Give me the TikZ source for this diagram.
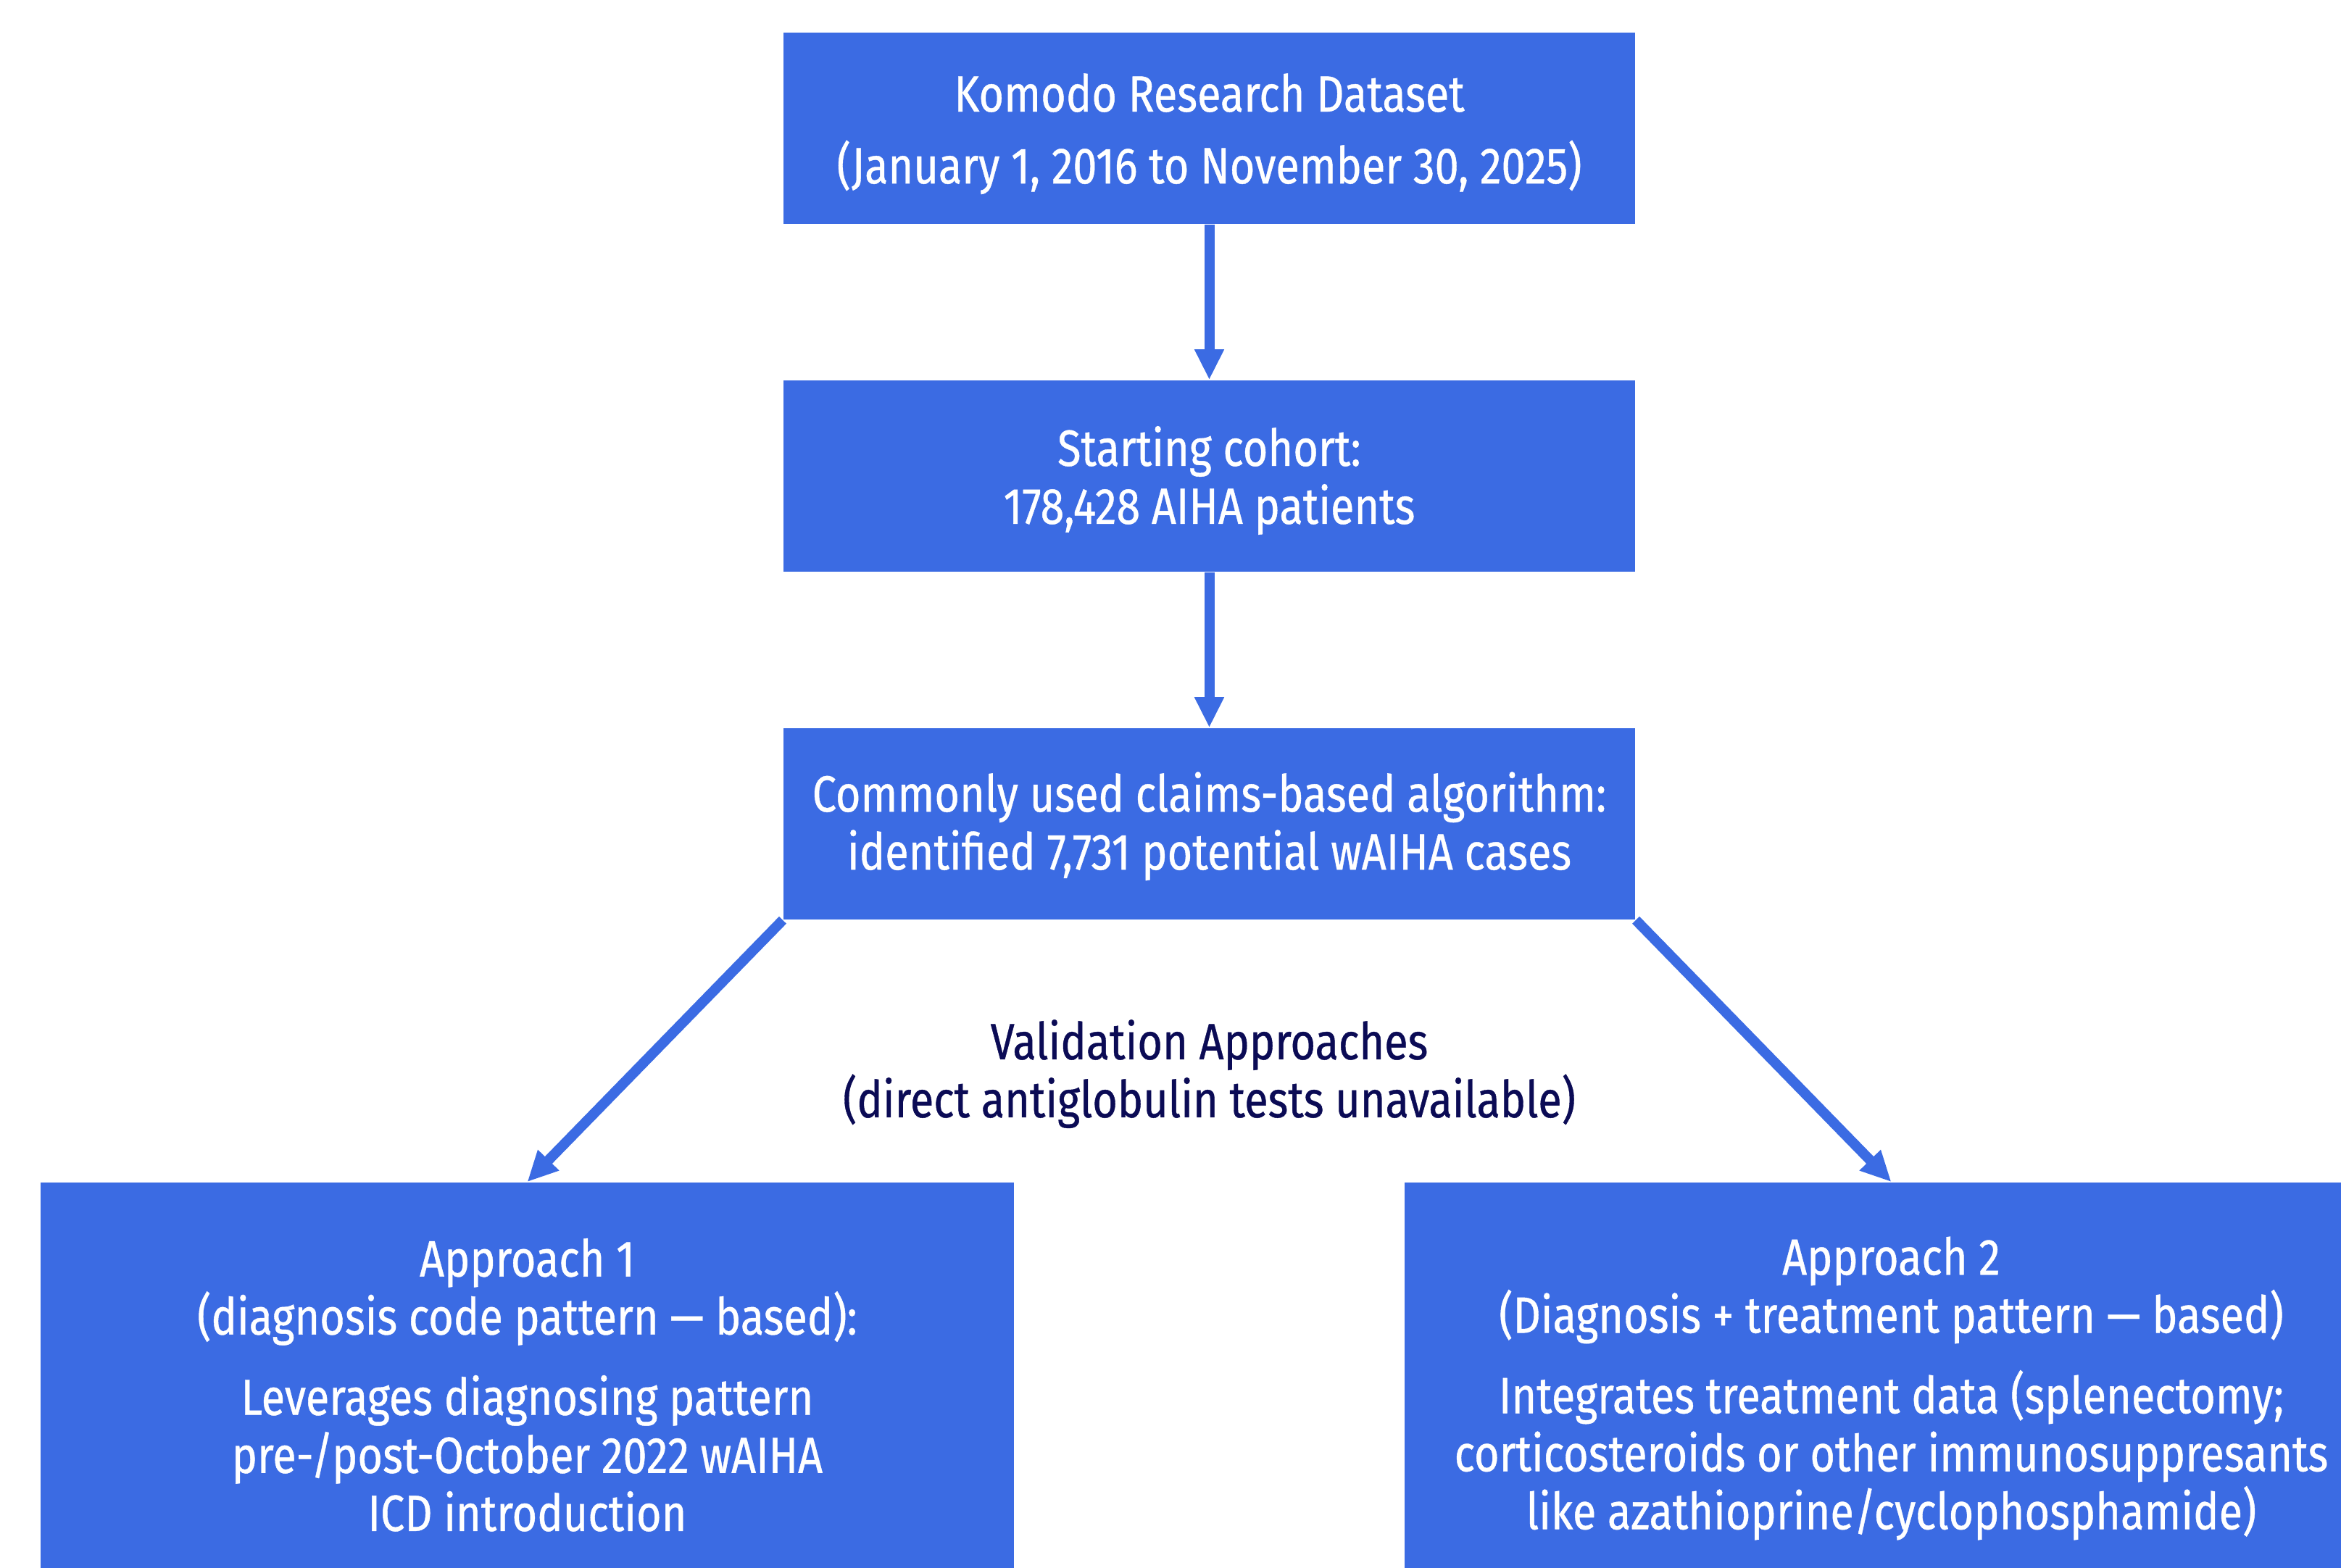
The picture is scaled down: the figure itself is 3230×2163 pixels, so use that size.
\documentclass[tikz,border=0pt]{standalone}
\usepackage{fontspec}
\setmainfont{Fira Sans}[FakeStretch=0.845,FakeBold=0.6]
\usetikzlibrary{arrows.meta}
\definecolor{boxblue}{HTML}{3B6BE3}
\definecolor{navy}{HTML}{0B0B55}
\begin{document}
\begin{tikzpicture}[x=0.01cm,y=-0.01cm,
  box/.style={fill=boxblue, text=white, align=center, inner sep=0pt, draw=none,
    font=\fontsize{20}{22.76}\selectfont},
  arr/.style={draw=boxblue, line width=0.14cm, -{Triangle[width=0.38cm,length=0.42cm]}},
  note/.style={text=navy, align=center, font=\fontsize{20}{22.76}\selectfont}]
\useasboundingbox (0,0) rectangle (3230,2163);
\clip (0,0) rectangle (3230,2163);
\node[box, minimum width=11.75cm, minimum height=2.64cm] (b1) at (1668.5,177)
  {\rule{0pt}{19.35pt}Komodo Research Dataset\\[0.19cm](January 1, 2016 to November 30, 2025)};
\node[box, minimum width=11.75cm, minimum height=2.64cm] (b2) at (1668.5,657)
  {\rule{0pt}{19pt}Starting cohort:\\178,428 AIHA patients};
\node[box, minimum width=11.75cm, minimum height=2.64cm] (b3) at (1668.5,1137)
  {\rule{0pt}{17.4pt}Commonly used claims-based algorithm:\\identified 7,731 potential wAIHA cases};
\node[box, minimum width=13.43cm, minimum height=5.68cm] (b4) at (727.5,1916)
  {Approach 1\\(diagnosis code pattern — based):\\[0.31cm]Leverages diagnosing pattern\\pre-/post-October 2022 wAIHA\\ICD introduction\vphantom{()}};
\node[box, minimum width=13.43cm, minimum height=5.68cm] (b5) at (2609.5,1916)
  {Approach 2\\(Diagnosis + treatment pattern — based)\\[0.31cm]Integrates treatment data (splenectomy;\\corticosteroids or other immunosuppresants\\like azathioprine/cyclophosphamide)};
\node[note] (val) at (1668.5,1482)
  {Validation Approaches\\(direct antiglobulin tests unavailable)};
\draw[arr] (b1.south) -- (b2.north);
\draw[arr] (b2.south) -- (b3.north);
\draw[arr] (b3.south west) -- (b4.north);
\draw[arr] (b3.south east) -- (b5.north);
\end{tikzpicture}
\end{document}
